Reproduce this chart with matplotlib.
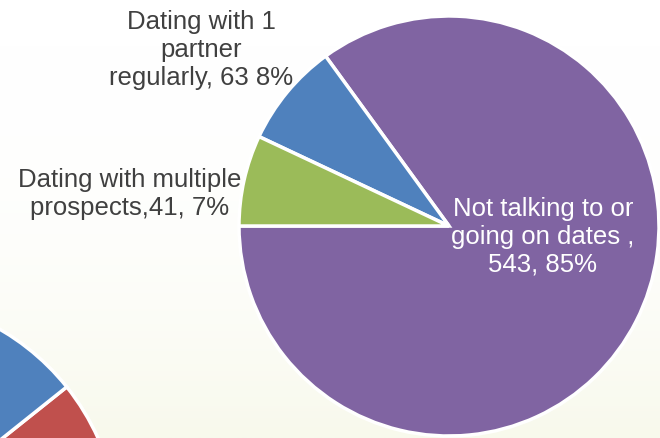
import numpy as np
import matplotlib.pyplot as plt
from matplotlib.colors import LinearSegmentedColormap

# main pie: share of respondents (wedges drawn from the printed percentages)
labels = ['Not talking to or\ngoing on dates ,\n543, 85%',
          'Dating with 1\npartner\nregularly, 63 8%',
          'Dating with multiple\nprospects,41, 7%']
counts = [543, 63, 41]
shares = [85, 8, 7]
colors = ['#8064A2', '#4F81BD', '#9BBB59']

# partial pie from the slide behind, mostly cut off
back_shares = [8, 15, 77]
back_colors = ['#C0504D', '#4F81BD', '#9BBB59']

W, H = 660, 439
fig = plt.figure(figsize=(6.6, 4.39), dpi=100)
fig.patch.set_facecolor('white')

# faint cream wash towards the bottom of the slide
bg = fig.add_axes([0, 0, 1, 1])
grad = np.linspace(0, 1, 256).reshape(-1, 1) ** 2.5
cmap = LinearSegmentedColormap.from_list('wash', ['#ffffff', '#f8f9ec'])
bg.imshow(grad, aspect='auto', cmap=cmap, extent=[0, 1, 0, 1], origin='upper')
bg.axis('off')


def px_axes(cx, cy, r):
    # axes box (figure fraction) for a pie centred at pixel (cx, cy) with radius r
    return [(cx - r) / W, (H - cy - r) / H, 2 * r / W, 2 * r / H]


back = fig.add_axes(px_axes(-120, 537, 239))
back.pie(back_shares, colors=back_colors, startangle=9.8, counterclock=True,
         wedgeprops=dict(edgecolor='white', linewidth=2.5))
back.set_xlim(-1, 1)
back.set_ylim(-1, 1)
back.axis('off')

ax = fig.add_axes(px_axes(449, 227, 210))
ax.pie(shares, colors=colors, startangle=180, counterclock=True,
       wedgeprops=dict(edgecolor='white', linewidth=2.5))
ax.set_xlim(-1, 1)
ax.set_ylim(-1, 1)
ax.axis('off')

font = dict(family=['Liberation Sans', 'DejaVu Sans'], fontsize=18.5,
            ha='center', va='center', linespacing=1.2)
label_pos = [(543, 237), (201, 50), (130, 194)]
label_col = ['white', '#404040', '#404040']
for lab, (x, y), c in zip(labels, label_pos, label_col):
    fig.text(x / W, 1 - y / H, lab, color=c, **font)

fig.savefig('out.png', dpi=100)
